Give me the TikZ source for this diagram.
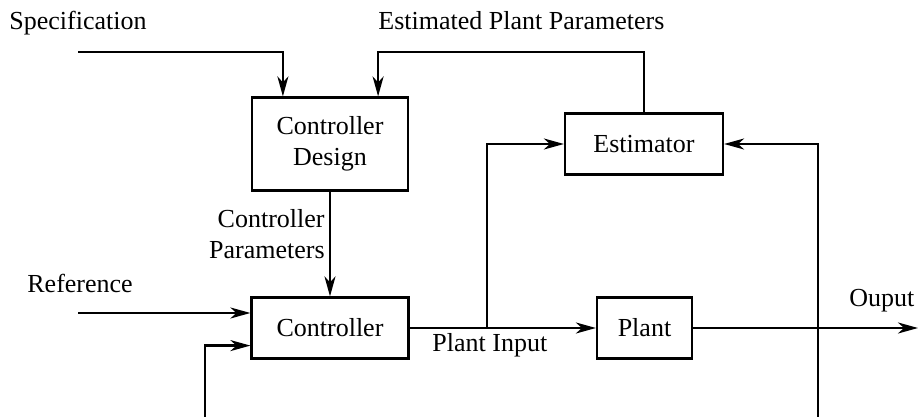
\documentclass[tikz,border=0pt]{standalone}
\usepackage{fontspec}
\setmainfont{Liberation Serif}
\usetikzlibrary{arrows.meta}
\begin{document}
\begin{tikzpicture}[x=0.5pt,y=-0.5pt,
  font=\fontsize{13pt}{15.5pt}\selectfont,
  blk/.style={draw,line width=1.1pt,inner sep=0pt,align=center},
  lbl/.style={inner sep=0pt},
  conn/.style={line width=1.1pt},
  arr/.style={conn,-{Stealth[length=10pt,width=5.5pt,inset=3pt]}}]
\useasboundingbox (0,0) rectangle (918,417);
% blocks
\node[blk,minimum width=78pt,minimum height=46.5pt] (cd) at (330,144) {Controller\\Design};
\node[blk,minimum width=79pt,minimum height=30.5pt] (est) at (644,144) {Estimator};
\node[blk,minimum width=78.5pt,minimum height=30.5pt] (ctrl) at (330,328) {Controller};
\node[blk,minimum width=47.5pt,minimum height=30.5pt] (plant) at (644.5,328) {Plant};
% labels
\node[lbl,anchor=base west] (spec) at (9,30) {Specification};
\node[lbl,anchor=base west] (epp) at (378,30) {Estimated Plant Parameters};
\node[lbl,anchor=base east,align=right] (cp) at (325,259) {Controller\\Parameters};
\node[lbl,anchor=base west] (ref) at (27,293) {Reference};
\node[lbl,anchor=base west] (pin) at (432,352) {Plant Input};
\node[lbl,anchor=base west] (out) at (849,307) {Ouput};
% coordinates
\coordinate (specS) at (78,52);
\coordinate (refS) at (78,313);
\coordinate (fbB) at (205,417);
\coordinate (br) at (487,328);
\coordinate (rvB) at (818,417);
\coordinate (outE) at (918,328);
% connectors
\draw[arr] (specS) -| ([xshift=16pt]cd.north west);
\draw[arr] (est.north) |- ([xshift=-15.5pt]cd.north east |- specS) -- ([xshift=-15.5pt]cd.north east);
\draw[arr] (cd.south) -- (ctrl.north);
\draw[arr] (refS) -- (refS -| ctrl.west);
\draw[arr] (fbB) |- ([yshift=7pt]ctrl.south west);
\draw[arr] (ctrl.east) -- (plant.west);
\draw[arr] (br) |- (est.west);
\draw[arr] (plant.east) -- (outE);
\draw[arr] (rvB) |- (est.east);
\end{tikzpicture}
\end{document}
